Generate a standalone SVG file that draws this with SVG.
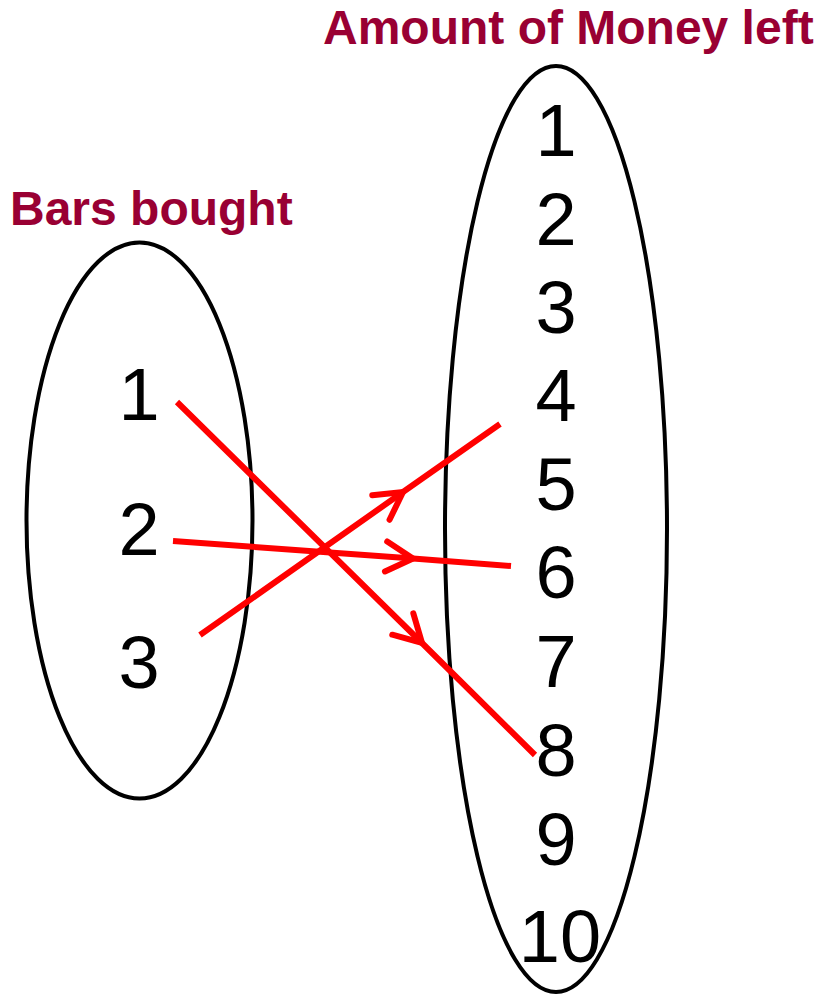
<svg xmlns="http://www.w3.org/2000/svg" width="821" height="995" viewBox="0 0 821 995">
<style>
.title{font-family:"Liberation Sans",Arial,sans-serif;font-weight:bold;font-size:48px;fill:#990033}
.num{font-family:"Liberation Sans",Arial,sans-serif;font-size:74px;fill:#000}
.set{fill:none;stroke:#000;stroke-width:4}
.map{fill:none;stroke:#ff0000;stroke-width:6;marker-mid:url(#chev)}
</style>
<defs>
<marker id="chev" markerUnits="userSpaceOnUse" orient="auto" refX="0" refY="0" markerWidth="60" markerHeight="60" viewBox="-40 -30 60 60" overflow="visible">
<path d="M-27,-15 L0,0 L-27,15" fill="none" stroke="#ff0000" stroke-width="6" stroke-linecap="round" stroke-linejoin="miter"/>
</marker>
</defs>
<g id="bars-set">
<ellipse class="set" cx="139.5" cy="520.5" rx="113" ry="278"/>
<text class="title" x="10" y="225">Bars bought</text>
<text class="num" x="139" y="420" text-anchor="middle">1</text>
<text class="num" x="139" y="555" text-anchor="middle">2</text>
<text class="num" x="139" y="688" text-anchor="middle">3</text>
</g>
<g id="money-set">
<ellipse class="set" cx="556" cy="529" rx="111" ry="463"/>
<text class="title" x="323" y="44">Amount of Money left</text>
<text class="num" x="556" y="156" text-anchor="middle">1</text>
<text class="num" x="556" y="245" text-anchor="middle">2</text>
<text class="num" x="556" y="333" text-anchor="middle">3</text>
<text class="num" x="556" y="421" text-anchor="middle">4</text>
<text class="num" x="556" y="510" text-anchor="middle">5</text>
<text class="num" x="556" y="598" text-anchor="middle">6</text>
<text class="num" x="556" y="687" text-anchor="middle">7</text>
<text class="num" x="556" y="776" text-anchor="middle">8</text>
<text class="num" x="556" y="865" text-anchor="middle">9</text>
<text class="num" x="560" y="962" text-anchor="middle">10</text>
</g>
<g id="connectors">
<path class="map" d="M177,402 L422,643 L535,755"/>
<path class="map" d="M173,541 L413,558.5 L511,566"/>
<path class="map" d="M200,635 L403,492 L500,424"/>
</g>
</svg>
